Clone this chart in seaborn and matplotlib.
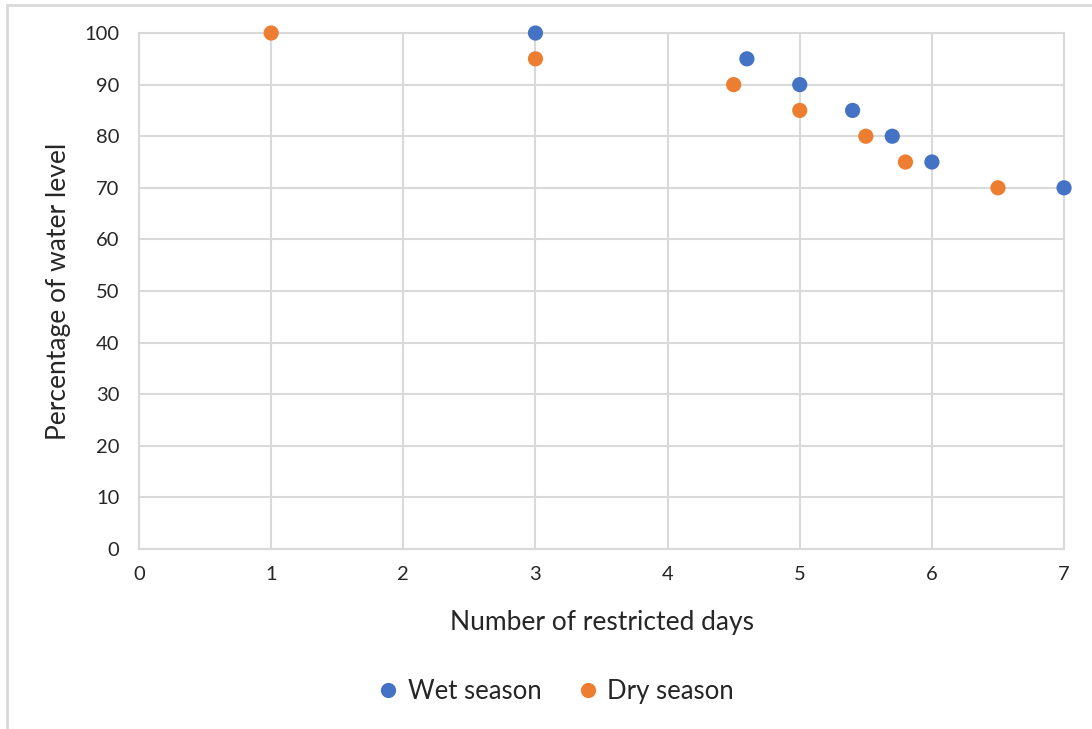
import matplotlib
matplotlib.use("Agg")
import matplotlib.pyplot as plt
from matplotlib.patches import Rectangle
import pandas as pd
import seaborn as sns

# Days of restriction vs. remaining water level, per season
wet_days = [3, 4.6, 5, 5.4, 5.7, 6, 7]
wet_level = [100, 95, 90, 85, 80, 75, 70]
dry_days = [1, 3, 4.5, 5, 5.5, 5.8, 6.5]
dry_level = [100, 95, 90, 85, 80, 75, 70]
x_ticks = [0, 1, 2, 3, 4, 5, 6, 7]
y_ticks = [0, 10, 20, 30, 40, 50, 60, 70, 80, 90, 100]

df = pd.concat([
    pd.DataFrame({"days": wet_days, "level": wet_level, "season": "Wet season"}),
    pd.DataFrame({"days": dry_days, "level": dry_level, "season": "Dry season"}),
], ignore_index=True)

sns.set_theme(style="white")
plt.rcParams["font.family"] = ["Lato", "DejaVu Sans"]

grid_col = "#d9d9d9"
text_col = "#262626"
palette = {"Wet season": "#4472C4", "Dry season": "#ED7D31"}

fig = plt.figure(figsize=(10.92, 7.29), dpi=100)
ax = fig.add_axes([0.1273, 0.2469, 0.8471, 0.7078])

sns.scatterplot(data=df, x="days", y="level", hue="season", palette=palette,
                s=120, linewidth=0, ax=ax, clip_on=False, zorder=3, legend=True)

ax.set_xlim(0, 7)
ax.set_ylim(0, 100)
ax.set_xticks(x_ticks)
ax.set_yticks(y_ticks)
ax.grid(True, color=grid_col, linewidth=1.5)
ax.set_axisbelow(True)
for sp in ax.spines.values():
    sp.set_color(grid_col)
    sp.set_linewidth(1.5)
ax.tick_params(axis="both", length=0, labelsize=14.5, colors=text_col, pad=12)
ax.tick_params(axis="y", pad=14)

ax.set_xlabel("Number of restricted days", fontsize=19, color=text_col, labelpad=20)
ax.set_ylabel("Percentage of water level", fontsize=19, color=text_col, labelpad=10)

handles, labels = ax.get_legend_handles_labels()
ax.get_legend().remove()
fig.legend(handles, labels, loc="center", bbox_to_anchor=(0.509, 0.051), ncol=2,
           frameon=False, fontsize=18.5, handlelength=0.8, handletextpad=0.35,
           columnspacing=1.4, markerscale=1.0, labelcolor=text_col)

# Outer chart frame
fig.patches.append(Rectangle((7 / 1092, -0.05), 1.2, 1 - 5 / 729 + 0.05,
                             transform=fig.transFigure, fill=False,
                             edgecolor=grid_col, linewidth=2.0))

fig.savefig("out.png", dpi=100, facecolor="white")
